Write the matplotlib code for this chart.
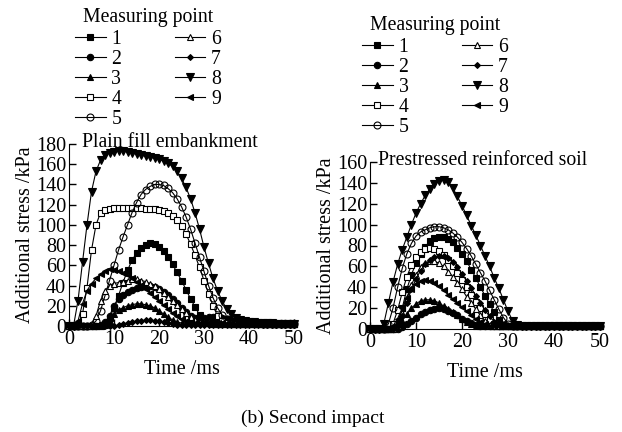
import matplotlib
matplotlib.use("Agg")
import matplotlib.pyplot as plt
import numpy as np

plt.rcParams['font.family'] = ['Liberation Serif', 'DejaVu Serif']

# time axis (ms)
time_ms = list(range(0, 51))

labels = ["1", "2", "3", "4", "5", "6", "7", "8", "9"]

# ---- Plain fill embankment ----
plain_1 = [0,0,0,0,0,0,0,0,2,8,
           18,30,43,55,65,72,77,80,82,81,
           78,74,68,61,53,45,36,27,19,11,
           6,3,2,2,2,2,2,2,2,2,
           2,2,2,2,2,2,2,2,2,2,
           2]
plain_2 = [0,0,0,0,0,0,0,1,4,10,
           20,27,31,34,36,38,39,40,40,39,
           37,34,31,27,23,18,14,10,8,7,
           8,9,9,9,8,7,6,5,4,4,
           3,3,3,3,3,3,3,3,3,3,
           3]
plain_3 = [0,0,0,0,0,0,0,0,1,5,
           12,16,18,20,21,22,22,21,20,18,
           15,12,9,6,4,3,3,4,5,6,
           7,7,7,6,5,4,4,3,3,3,
           3,3,3,3,3,2,2,2,2,2,
           2]
plain_4 = [0,0,1,12,38,75,100,112,115,116,
           117,117,117,117,117,117,117,116,116,116,
           115,114,112,109,105,99,91,81,70,58,
           45,32,20,10,5,3,2,2,2,2,
           2,2,2,2,2,2,2,2,2,2,
           2]
plain_5 = [0,0,0,0,0,1,5,15,30,45,
           60,75,88,100,112,122,130,135,138,140,
           140,139,136,132,126,118,108,96,82,68,
           54,40,28,18,11,7,5,4,3,3,
           3,3,3,2,2,2,2,2,2,2,
           2]
plain_6 = [0,0,0,0,0,2,10,25,35,40,
           42,43,44,45,46,46,45,44,42,40,
           37,33,29,25,21,17,13,9,6,4,
           3,3,2,2,2,2,2,2,2,2,
           2,2,2,2,2,2,2,2,2,2,
           2]
plain_7 = [0,0,0,0,0,0,0,0,0,0,
           0,1,2,3,4,5,5,6,6,5,
           5,4,3,2,1,1,1,1,1,1,
           1,1,1,1,1,1,1,1,1,1,
           1,1,1,1,1,1,1,1,1,1,
           1]
plain_8 = [0,0,25,63,100,133,153,164,169,171,
           172,173,173,172,171,170,169,168,167,166,
           165,163,161,158,153,146,137,126,112,96,
           78,62,47,35,25,17,12,8,6,5,
           4,4,3,3,3,3,2,2,2,2,
           2]
plain_9 = [0,0,5,22,35,42,47,51,54,56,
           55,54,52,50,47,44,41,37,33,29,
           25,21,17,13,10,7,5,4,3,3,
           3,3,3,3,3,2,2,2,2,2,
           2,2,2,2,2,2,2,2,2,2,
           2]

# ---- Prestressed reinforced soil ----
pre_1 = [0,0,0,0,0,0,5,20,38,52,
         63,72,79,84,87,88,88,86,83,78,
         72,65,57,49,40,32,24,16,9,4,
         3,3,3,3,3,3,3,3,3,3,
         3,3,3,3,3,3,3,3,3,3,
         3]
pre_2 = [0,0,0,0,0,0,0,2,5,8,
         11,14,16,18,19,20,19,17,15,13,
         10,8,6,4,3,3,3,3,3,3,
         3,3,3,3,3,3,3,3,3,3,
         3,3,3,3,3,3,3,3,3,3,
         3]
pre_3 = [0,0,0,0,0,0,3,8,14,20,
         24,27,28,28,27,25,22,19,16,13,
         10,7,5,3,3,3,3,3,3,3,
         3,3,3,3,3,3,3,3,3,3,
         3,3,3,3,3,3,3,3,3,3,
         3]
pre_4 = [0,0,0,0,0,5,18,35,50,61,
         69,74,77,78,77,75,71,66,60,54,
         47,40,33,26,20,14,9,5,3,3,
         3,3,3,3,3,3,3,3,3,3,
         3,3,3,3,3,3,3,3,3,3,
         3]
pre_5 = [0,0,0,0,5,20,40,58,72,82,
         89,93,95,97,98,98,97,95,92,88,
         83,77,70,62,54,46,37,28,19,11,
         5,3,3,3,3,3,3,3,3,3,
         3,3,3,3,3,3,3,3,3,3,
         3]
pre_6 = [0,0,0,0,0,0,3,15,30,42,
         52,59,63,65,65,63,60,55,50,44,
         38,31,25,19,13,8,4,3,3,3,
         3,3,3,3,3,3,3,3,3,3,
         3,3,3,3,3,3,3,3,3,3,
         3]
pre_7 = [0,0,0,0,0,0,3,12,25,38,
         48,56,62,66,69,70,70,68,64,59,
         53,46,39,32,25,18,12,7,4,3,
         3,3,3,3,3,3,3,3,3,3,
         3,3,3,3,3,3,3,3,3,3,
         3]
pre_8 = [0,0,0,5,25,45,62,76,88,100,
         111,120,128,134,139,142,143,141,135,127,
         118,109,99,90,80,70,60,49,39,28,
         17,8,4,3,3,3,3,3,3,3,
         3,3,3,3,3,3,3,3,3,3,
         3]
pre_9 = [0,0,0,0,0,3,10,20,30,38,
         43,46,47,46,44,41,37,33,29,25,
         21,17,13,10,7,5,3,3,3,3,
         3,3,3,3,3,3,3,3,3,3,
         3,3,3,3,3,3,3,3,3,3,
         3]

plain = [plain_1, plain_2, plain_3, plain_4, plain_5, plain_6, plain_7, plain_8, plain_9]
pre = [pre_1, pre_2, pre_3, pre_4, pre_5, pre_6, pre_7, pre_8, pre_9]

styles = [
    dict(marker='s', mfc='black', ms=4.6),
    dict(marker='o', mfc='black', ms=4.6),
    dict(marker='^', mfc='black', ms=5.0),
    dict(marker='s', mfc='white', ms=4.6),
    dict(marker='o', mfc='none', ms=5.0),
    dict(marker='^', mfc='white', ms=5.0),
    dict(marker='D', mfc='black', ms=3.0),
    dict(marker='v', mfc='black', ms=5.4),
    dict(marker='<', mfc='black', ms=5.0),
]

fig = plt.figure(figsize=(6.22, 4.32), dpi=100)
ax1 = fig.add_axes([69/622, 1-326/432, 225/622, 182/432])
ax2 = fig.add_axes([370/622, 1-329/432, 230/622, 167/432])

FS = 14.5
TFS = 14.2

def draw(ax, data, ymax, title, tx, ty):
    handles = []
    for lab, ys, st in zip(labels, data, styles):
        h, = ax.plot(time_ms, ys, color='black', lw=0.8, mec='black', mew=0.8,
                     label=lab, clip_on=False, **st)
        handles.append(h)
    ax.set_xlim(0, 50)
    ax.set_ylim(0, ymax)
    ax.set_xticks(range(0, 51, 10))
    ax.set_yticks(range(0, ymax + 1, 20))
    ax.spines['top'].set_visible(False)
    ax.spines['right'].set_visible(False)
    ax.tick_params(direction='in', length=5, width=1, labelsize=FS)
    ax.tick_params(axis='x', pad=3)
    ax.tick_params(axis='y', pad=2)
    ax.set_xlabel('Time /ms', fontsize=FS, labelpad=8)
    ax.set_ylabel('Additional stress /kPa', fontsize=FS, labelpad=1)
    ax.text(tx, ty, title, transform=ax.transAxes, fontsize=TFS, va='center', ha='left')
    return handles

h1 = draw(ax1, plain, 180, 'Plain fill embankment', 0.058, 1.008)
h2 = draw(ax2, pre, 160, 'Prestressed reinforced soil', 0.035, 1.008)

leg_kw = dict(ncol=2, frameon=False, fontsize=TFS, title='Measuring point',
              title_fontsize=TFS, handlelength=1.55, handletextpad=0.3,
              columnspacing=2.7, labelspacing=0.05, borderpad=0.0)
l1 = fig.legend(handles=h1, loc='upper center', bbox_to_anchor=(148/622, 1-0/432), **leg_kw)
l2 = fig.legend(handles=h2, loc='upper center', bbox_to_anchor=(435/622, 1-8/432), **leg_kw)
for lg in (l1, l2):
    lg.get_title().set_position((0, 2))

fig.text(313/622, 1-418/432, '(b) Second impact', fontsize=14, ha='center', va='center')

fig.savefig('out.png', dpi=100)
